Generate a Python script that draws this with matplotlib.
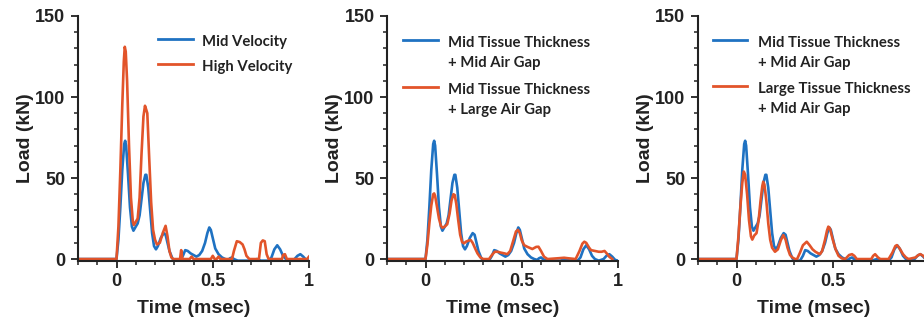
import numpy as np
import matplotlib.pyplot as plt
from matplotlib.ticker import MultipleLocator

# baseline case (mid velocity / mid tissue thickness + mid air gap), same in every panel
t_base = [-0.2, 0, 0.01, 0.02, 0.03, 0.04, 0.045, 0.05, 0.06, 0.07, 0.08, 0.088, 0.1, 0.11, 0.12, 0.13,
          0.14, 0.15, 0.155, 0.165, 0.175, 0.185, 0.195, 0.205, 0.215, 0.23, 0.245, 0.255, 0.265, 0.275,
          0.29, 0.3, 0.33, 0.345, 0.357, 0.37, 0.385, 0.4, 0.415, 0.43, 0.445, 0.46, 0.472, 0.482, 0.49,
          0.5, 0.513, 0.53, 0.548, 0.565, 0.58, 0.59, 0.6, 0.61, 0.63, 0.7, 0.73, 0.75, 0.79, 0.805, 0.82,
          0.835, 0.85, 0.865, 0.88, 0.9, 0.925, 0.94, 0.955, 0.97, 0.985, 1.0]
load_base = [0, 0, 12, 32, 55, 71, 73, 70, 52, 32, 20, 17.5, 20, 22, 27, 37,
             47, 52, 52, 44, 30, 16, 8, 6, 8, 13, 16, 15, 10, 5,
             0.5, -1, -1, 2, 5.5, 5, 3.5, 2.5, 1.5, 2.5, 5, 10, 16, 19.5, 18,
             13, 6.5, 3, 1, 0, -0.5, 0.5, 1, 0, -1, -1, 0, -1, -1, 1, 6,
             8.5, 6, 2, 0, -1, 0, 2, 3, 1.5, -0.5, -1]

# high velocity
t_high = [-0.2, 0, 0.01, 0.02, 0.03, 0.038, 0.043, 0.048, 0.055, 0.065, 0.075, 0.085, 0.09, 0.1, 0.11,
          0.12, 0.13, 0.14, 0.148, 0.155, 0.16, 0.17, 0.18, 0.19, 0.2, 0.21, 0.225, 0.24, 0.255, 0.265,
          0.275, 0.285, 0.295, 0.33, 0.336, 0.342, 0.38, 0.39, 0.4, 0.49, 0.5, 0.51, 0.52, 0.53, 0.54,
          0.6, 0.61, 0.625, 0.64, 0.655, 0.665, 0.675, 0.69, 0.74, 0.75, 0.76, 0.77, 0.78, 0.79, 0.86,
          0.865, 0.875, 0.885, 0.99, 1.0]
load_high = [0, 0, 20, 55, 95, 122, 131, 128, 110, 70, 38, 23, 21, 23, 25,
             38, 65, 88, 94.6, 92, 90, 62, 35, 18, 12, 9, 10, 16, 20.5, 14,
             5, 1, 0, 0, 5.5, 0, 0, 1.5, 0, 0, 2, 0, 0, 1.5, 0,
             0, 5, 11, 10.5, 9, 6, 2, 0, 0, 10, 11.5, 11, 3, 0, 0,
             2.5, 3, 0, 0, 1.5]

# mid tissue thickness + large air gap
t_gap = [-0.2, 0, 0.01, 0.02, 0.03, 0.04, 0.045, 0.05, 0.06, 0.07, 0.08, 0.088, 0.1, 0.113, 0.125, 0.135,
         0.145, 0.152, 0.16, 0.17, 0.18, 0.19, 0.2, 0.21, 0.225, 0.235, 0.245, 0.26, 0.27, 0.285, 0.3,
         0.33, 0.345, 0.36, 0.375, 0.39, 0.41, 0.425, 0.44, 0.455, 0.47, 0.48, 0.49, 0.5, 0.512, 0.53,
         0.555, 0.575, 0.587, 0.6, 0.616, 0.634, 0.69, 0.72, 0.74, 0.78, 0.8, 0.815, 0.825, 0.835, 0.85,
         0.86, 0.88, 0.9, 0.915, 0.93, 0.945, 0.955, 0.97]
load_gap = [0, 0, 9, 22, 33, 40, 40.5, 39, 32, 25, 20.5, 19.3, 20, 21.5, 28, 36,
            40, 39.5, 34, 24, 15, 10.5, 9.7, 10.7, 11.5, 11.7, 10, 6, 3.5, 1, 0,
            0, 2.5, 4.5, 4.5, 4, 3.5, 3, 5, 11, 17, 18, 16, 11.5, 8.6, 7.5,
            6.2, 7.5, 7.6, 5, 1.4, 0, 0.5, 0.8, 0.5, 0, 5, 9.5, 10.7, 10, 7,
            5.5, 5, 4.5, 4.5, 5, 3, 1.4, 0]

# large tissue thickness + mid air gap
t_tissue = [-0.2, 0, 0.01, 0.02, 0.03, 0.038, 0.045, 0.055, 0.065, 0.075, 0.082, 0.092, 0.104, 0.115,
            0.125, 0.134, 0.139, 0.145, 0.155, 0.165, 0.175, 0.185, 0.2, 0.215, 0.23, 0.243, 0.255,
            0.265, 0.278, 0.29, 0.304, 0.315, 0.33, 0.345, 0.365, 0.38, 0.395, 0.41, 0.425, 0.434, 0.445,
            0.46, 0.47, 0.477, 0.485, 0.5, 0.515, 0.53, 0.547, 0.565, 0.585, 0.6, 0.612, 0.625, 0.7, 0.71,
            0.72, 0.735, 0.747, 0.79, 0.81, 0.825, 0.833, 0.845, 0.865, 0.88, 0.894, 0.93, 0.945, 0.955,
            0.97, 0.98, 1.0]
load_tissue = [0, 0, 14, 32, 47, 54, 52, 40, 24, 14, 12, 14.5, 16, 24,
               36, 45, 47.7, 46, 36, 22, 12, 7, 4.5, 6, 11.5, 14.8, 12,
               7, 2.5, 1, 0, 0, 4, 8.5, 10.7, 8.5, 6, 4.5, 3.5, 3, 5,
               12, 17.5, 20, 19, 12, 6, 2, 0.4, 0, 2.5, 3, 2, 0, 0, 2,
               3, 1, 0, 0, 4, 8, 8.6, 7, 3, 1, 0, 1, 2.5, 3,
               2, 0.5, 0]

xtick_labels = ['0', '0.5', '1']

blue = '#1f72c2'
orange = '#e2542a'

panels = [
    (t_high, load_high, ['Mid Velocity'], ['High Velocity']),
    (t_gap, load_gap, ['Mid Tissue Thickness', '+ Mid Air Gap'], ['Mid Tissue Thickness', '+ Large Air Gap']),
    (t_tissue, load_tissue, ['Mid Tissue Thickness', '+ Mid Air Gap'], ['Large Tissue Thickness', '+ Mid Air Gap']),
]
lefts = [78, 387, 698]
# legend layout per panel (axes fraction): handle x0, x1, text x, y of each entry's first line
leg_x = [(0.346, 0.498, 0.537), (0.069, 0.22, 0.264), (0.065, 0.212, 0.26)]
leg_y = [(0.906, 0.804), (0.902, 0.711), (0.902, 0.715)]

fig = plt.figure(figsize=(9.24, 3.25), dpi=100)
for i, (tt, ll, lab1, lab2) in enumerate(panels):
    ax = fig.add_axes([lefts[i] / 924, 64 / 325, 231 / 924, 245 / 325])
    ax.plot(t_base, load_base, color=blue, lw=1.9, solid_joinstyle='round')
    ax.plot(tt, ll, color=orange, lw=1.9, solid_joinstyle='round')
    ax.set_xlim(-0.2, 1)
    ax.set_ylim(-1.2, 150)
    ax.set_xticks([0, 0.5, 1])
    # the last panel runs off the right edge of the picture, its "1" is not shown
    ax.set_xticklabels(xtick_labels if i < 2 else xtick_labels[:2] + [''])
    ax.set_yticks([0, 50, 100, 150])
    ax.xaxis.set_minor_locator(MultipleLocator(0.1))
    ax.yaxis.set_minor_locator(MultipleLocator(10))
    for s in ['top', 'right']:
        ax.spines[s].set_visible(False)
    for s in ['left', 'bottom']:
        ax.spines[s].set_linewidth(1.5)
        ax.spines[s].set_color('#222222')
    ax.tick_params(which='major', length=5, width=1.3, color='#222222', labelsize=13, pad=4)
    ax.tick_params(which='minor', length=3, width=1.1, color='#222222')
    for lab in ax.get_xticklabels() + ax.get_yticklabels():
        lab.set_fontweight('bold')
        lab.set_color('#222222')
        lab.set_fontfamily('Liberation Sans')
    ax.set_xlabel('Time (msec)', fontsize=14, fontweight='bold', family='Liberation Sans', color='#222222', labelpad=7)
    ax.set_ylabel('Load (kN)', fontsize=14, fontweight='bold', family='Liberation Sans', color='#222222', labelpad=1)

    # legend, handle level with the first text line
    x0, x1, xt = leg_x[i]
    for y, lab, c in zip(leg_y[i], [lab1, lab2], [blue, orange]):
        ax.plot([x0, x1], [y, y], color=c, lw=2, transform=ax.transAxes, clip_on=False)
        for k, line in enumerate(lab):
            ax.text(xt, y - 0.012 - k * 0.082, line, transform=ax.transAxes, fontsize=10.7,
                    fontweight='bold', family='Lato', color='#222222', va='center', ha='left')

fig.savefig('out.png', dpi=100)
